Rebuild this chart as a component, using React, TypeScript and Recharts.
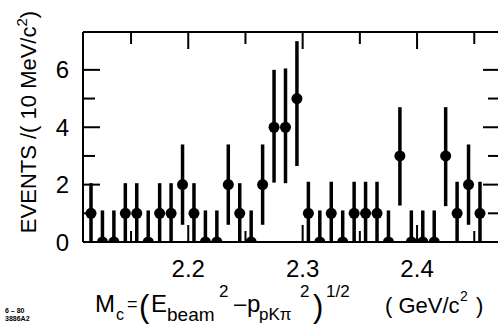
import { ScatterChart, Scatter, XAxis, YAxis, ErrorBar } from 'recharts';

// bin centres (GeV/c^2), 10 MeV bins
const MASS = [
  2.115, 2.125, 2.135, 2.145, 2.155, 2.165, 2.175, 2.185, 2.195, 2.205,
  2.215, 2.225, 2.235, 2.245, 2.255, 2.265, 2.275, 2.285, 2.295, 2.305,
  2.315, 2.325, 2.335, 2.345, 2.355, 2.365, 2.375, 2.385, 2.395, 2.405,
  2.415, 2.425, 2.435, 2.445, 2.455,
];
const EVENTS = [
  1, 0, 0, 1, 1, 0, 1, 1, 2, 1,
  0, 0, 2, 1, 0, 2, 4, 4, 5, 1,
  0, 1, 0, 1, 1, 1, 0, 3, 0, 0,
  0, 3, 1, 2, 1,
];
// error bar limits
const ERR_LOW = [
  0, 0, 0, 0, 0, 0, 0, 0, 0.6, 0,
  0, 0, 0.6, 0, 0, 0.6, 2.07, 2.05, 2.65, 0,
  0, 0, 0, 0, 0, 0, 0, 1.27, 0, 0,
  0, 1.25, 0, 0.6, 0,
];
const ERR_HIGH = [
  2.05, 1.1, 1.1, 2.05, 2.05, 1.1, 2.05, 2.05, 3.4, 2.05,
  1.1, 1.1, 3.4, 2.05, 1.1, 3.4, 6.0, 6.05, 7.0, 2.1,
  1.1, 2.1, 1.1, 2.1, 2.1, 2.1, 1.1, 4.7, 1.1, 1.1,
  1.1, 4.7, 2.1, 3.4, 2.1,
];

const X_TICKS = [2.15, 2.2, 2.25, 2.3, 2.35, 2.4, 2.45];
const X_LABELS = [2.2, 2.3, 2.4];
const Y_TICKS = [0, 1, 2, 3, 4, 5, 6];
const Y_LABELS = [0, 2, 4, 6];
const X_DOMAIN = [2.108, 2.4725];
const Y_DOMAIN = [0, 7.32];

const data = MASS.map((m, i) => ({
  m,
  n: EVENTS[i],
  err: [EVENTS[i] - ERR_LOW[i], ERR_HIGH[i] - EVENTS[i]],
}));

const FONT = '"Liberation Sans", Arial, sans-serif';
const isIn = (list: number[], v: number) => list.some((t) => Math.abs(t - v) < 1e-6);

const BottomTick = (props: any) => {
  const { x, y, payload } = props;
  const major = isIn(X_LABELS, payload.value);
  return (
    <g>
      <line x1={x} x2={x} y1={y} y2={y - (major ? 17 : 11)} stroke="#000" strokeWidth={2} />
      {major && (
        <text x={x} y={y + 26} textAnchor="middle" dominantBaseline="central" fontSize={24} fontFamily={FONT} fill="#000">
          {payload.value.toFixed(1)}
        </text>
      )}
    </g>
  );
};

// top axis has height 1, so its tick origin sits 1px above the frame line
const TopTick = (props: any) => {
  const { x, y, payload } = props;
  const major = isIn(X_LABELS, payload.value);
  return <line x1={x} x2={x} y1={y} y2={y + (major ? 17 : 12)} stroke="#000" strokeWidth={2} />;
};

const LeftTick = (props: any) => {
  const { x, y, payload } = props;
  const major = isIn(Y_LABELS, payload.value);
  return (
    <g>
      <line x1={x} x2={x + (major ? 17 : 12)} y1={y} y2={y} stroke="#000" strokeWidth={2} />
      {major && (
        <text x={x - 14} y={y} textAnchor="end" dominantBaseline="central" fontSize={24} fontFamily={FONT} fill="#000">
          {payload.value}
        </text>
      )}
    </g>
  );
};

const RightTick = (props: any) => {
  const { x, y, payload } = props;
  const major = isIn(Y_LABELS, payload.value);
  if (payload.value === 0) return <g />;
  return <line x1={x} x2={x - (major ? 17 : 12)} y1={y} y2={y} stroke="#000" strokeWidth={2} />;
};

const XTitle = () => (
  <g fontFamily={FONT} fill="#000">
    <text fontSize={7} fontWeight="bold">
      <tspan x={5} y={313}>6 – 80</tspan>
      <tspan x={5} y={321}>3886A2</tspan>
    </text>
    <text>
      <tspan x={95} y={312} fontSize={24}>M</tspan>
      <tspan x={116} y={320} fontSize={16}>c</tspan>
      <tspan x={127} y={310} fontSize={18}>=</tspan>
      <tspan x={139} y={317} fontSize={31}>(</tspan>
      <tspan x={151} y={312} fontSize={24}>E</tspan>
      <tspan x={167} y={321} fontSize={19}>beam</tspan>
      <tspan x={219} y={297} fontSize={17}>2</tspan>
      <tspan x={234} y={311} fontSize={22}>–</tspan>
      <tspan x={247} y={312} fontSize={24}>p</tspan>
      <tspan x={259} y={320} fontSize={17}>pKπ</tspan>
      <tspan x={300} y={297} fontSize={17}>2</tspan>
      <tspan x={313} y={317} fontSize={31}>)</tspan>
      <tspan x={326} y={297} fontSize={17}>1/2</tspan>
    </text>
    <text fontSize={22}>
      <tspan x={385} y={313}>( GeV/c</tspan>
      <tspan x={460} y={301} fontSize={14}>2</tspan>
      <tspan x={476} y={313}>)</tspan>
    </text>
  </g>
);

const YTitle = () => (
  <text
    x={0}
    y={0}
    transform="translate(36,122) rotate(-90)"
    textAnchor="middle"
    fontSize={22}
    fontFamily={FONT}
    fill="#000"
  >
    EVENTS /( 10 MeV/c
    <tspan dy={-9} fontSize={15}>2</tspan>
    <tspan dy={9}>)</tspan>
  </text>
);

const Dot = (props: any) => <circle cx={props.cx} cy={props.cy} r={5.5} fill="#000" />;
const NoDot = () => <g />;

const axisLine = { stroke: '#000', strokeWidth: 2 };

export default function App() {
  return (
    <div style={{ position: 'fixed', left: 0, top: 0, width: 498, height: 324, overflow: 'hidden', background: '#fff' }}>
      <ScatterChart width={520} height={324} margin={{ top: 31, right: 19, bottom: 42, left: 0 }}>
        <XAxis
          dataKey="m"
          type="number"
          domain={X_DOMAIN}
          allowDataOverflow
          ticks={X_TICKS}
          interval={0}
          tick={BottomTick}
          tickLine={false}
          tickSize={0}
          tickMargin={0}
          height={40}
          axisLine={axisLine}
          label={{ content: XTitle }}
        />
        <XAxis
          xAxisId="top"
          dataKey="m"
          orientation="top"
          type="number"
          domain={X_DOMAIN}
          allowDataOverflow
          ticks={X_TICKS}
          interval={0}
          tick={TopTick}
          tickLine={false}
          tickSize={0}
          tickMargin={0}
          height={1}
          axisLine={axisLine}
        />
        <YAxis
          dataKey="n"
          type="number"
          domain={Y_DOMAIN}
          allowDataOverflow
          ticks={Y_TICKS}
          interval={0}
          tick={LeftTick}
          tickLine={false}
          tickSize={0}
          tickMargin={0}
          width={83}
          axisLine={axisLine}
          label={{ content: YTitle }}
        />
        <YAxis
          yAxisId="right"
          dataKey="n"
          orientation="right"
          type="number"
          domain={Y_DOMAIN}
          allowDataOverflow
          ticks={Y_TICKS}
          interval={0}
          tick={RightTick}
          tickLine={false}
          tickSize={0}
          tickMargin={0}
          width={1}
          axisLine={axisLine}
        />
        <Scatter data={data} dataKey="n" fill="#000" shape={Dot} isAnimationActive={false}>
          <ErrorBar dataKey="err" direction="y" width={0} stroke="#000" strokeWidth={3.5} />
        </Scatter>
        <Scatter
          data={data}
          dataKey="n"
          xAxisId="top"
          yAxisId="right"
          shape={NoDot}
          isAnimationActive={false}
        />
      </ScatterChart>
    </div>
  );
}
